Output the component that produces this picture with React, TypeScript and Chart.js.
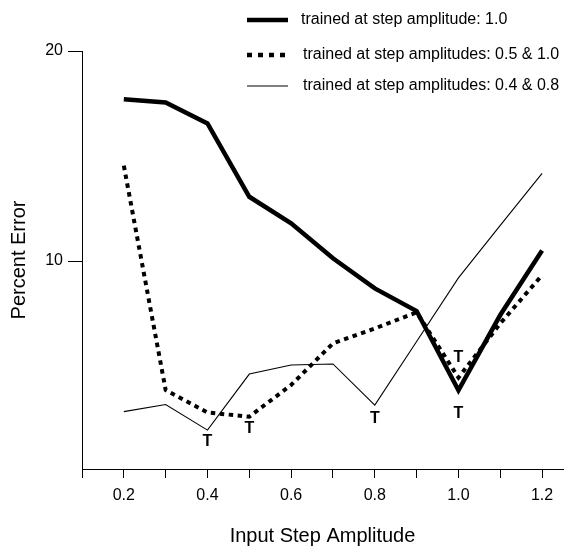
import React, { useEffect, useRef } from "react";
import { Chart, registerables } from "chart.js";

Chart.register(...registerables);

const FONT = "'Liberation Sans', Arial, Helvetica, sans-serif";

// Data
const xValues = [0.2, 0.3, 0.4, 0.5, 0.6, 0.7, 0.8, 0.9, 1.0, 1.1, 1.2];
const trainedOne = [17.7, 17.55, 16.55, 13.06, 11.8, 10.13, 8.7, 7.62, 3.85, 7.43, 10.5];
const trainedHalfAndOne = [14.54, 3.86, 2.79, 2.59, 4.1, 6.08, 6.79, 7.56, 4.45, 7.03, 9.33];
const trainedFourAndEight = [2.83, 3.17, 1.95, 4.62, 5.05, 5.1, 3.14, 6.17, 9.2, 11.7, 14.17];

const seriesLabels = [
  "trained at step amplitude: 1.0",
  "trained at step amplitudes: 0.5 & 1.0",
  "trained at step amplitudes: 0.4 & 0.8",
];

const xTickValues = [0.1, 0.2, 0.3, 0.4, 0.5, 0.6, 0.7, 0.8, 0.9, 1.0, 1.1, 1.2];
const xTickLabels = ["0.2", "0.4", "0.6", "0.8", "1.0", "1.2"];
const yTickValues = [10, 20];

// "T" markers (training points)
const tMarkX = [0.4, 0.5, 0.8, 1.0, 1.0];
const tMarkY = [1.4, 2.0, 2.48, 2.75, 5.4];
const tMarkText = ["T", "T", "T", "T", "T"];

export default function App() {
  const ref = useRef<HTMLCanvasElement>(null);

  useEffect(() => {
    document.body.style.margin = "0";
    const canvas = ref.current;
    if (!canvas) return;
    Chart.defaults.font.family = FONT;
    Chart.defaults.color = "#000";

    const tMarks = {
      id: "tMarks",
      afterDatasetsDraw(chart: any) {
        const { ctx } = chart;
        const xs = chart.scales.x;
        const ys = chart.scales.y;
        ctx.save();
        ctx.font = `bold 16px ${FONT}`;
        ctx.fillStyle = "#000";
        ctx.textAlign = "center";
        ctx.textBaseline = "middle";
        tMarkX.forEach((v, i) => {
          ctx.fillText(tMarkText[i], xs.getPixelForValue(v), ys.getPixelForValue(tMarkY[i]));
        });
        ctx.restore();
      },
    };

    const legendRows = [20, 55, 86];
    const customLegend = {
      id: "customLegend",
      afterDraw(chart: any) {
        const { ctx } = chart;
        ctx.save();
        chart.data.datasets.forEach((ds: any, i: number) => {
          const yy = legendRows[i];
          ctx.beginPath();
          ctx.strokeStyle = ds.borderColor;
          ctx.lineWidth = i === 1 ? 4.5 : ds.borderWidth;
          ctx.setLineDash(i === 1 ? [5, 6] : []);
          ctx.lineCap = "butt";
          ctx.moveTo(247, yy);
          ctx.lineTo(i === 1 ? 285 : 288, yy);
          ctx.stroke();
          ctx.setLineDash([]);
          ctx.font = `16px ${FONT}`;
          ctx.fillStyle = "#000";
          ctx.textAlign = "left";
          ctx.textBaseline = "middle";
          ctx.fillText(ds.label, i === 0 ? 301 : 303, yy);
        });
        ctx.restore();
      },
    };

    const mk = (arr: number[]) => xValues.map((x, i) => ({ x, y: arr[i] }));

    const chart = new Chart(canvas, {
      type: "line",
      data: {
        datasets: [
          {
            label: seriesLabels[0],
            data: mk(trainedOne),
            borderColor: "#000",
            borderWidth: 4.5,
            borderJoinStyle: "miter",
            pointRadius: 0,
            fill: false,
            tension: 0,
          },
          {
            label: seriesLabels[1],
            data: mk(trainedHalfAndOne),
            borderColor: "#000",
            borderWidth: 4,
            borderDash: [4.5, 4.5],
            borderJoinStyle: "miter",
            pointRadius: 0,
            fill: false,
            tension: 0,
          },
          {
            label: seriesLabels[2],
            data: mk(trainedFourAndEight),
            borderColor: "#000",
            borderWidth: 1.1,
            pointRadius: 0,
            fill: false,
            tension: 0,
          },
        ],
      },
      options: {
        responsive: false,
        animation: false,
        devicePixelRatio: 1,
        layout: { padding: { top: 51, right: 1, left: 0, bottom: 0 } },
        plugins: {
          legend: { display: false },
          tooltip: { enabled: false },
        },
        scales: {
          x: {
            type: "linear",
            min: 0.1,
            max: 1.25,
            afterBuildTicks: (s: any) => {
              s.ticks = xTickValues.map((v) => ({ value: v }));
            },
            afterFit: (s: any) => {
              s.height = 78;
            },
            ticks: {
              autoSkip: false,
              maxRotation: 0,
              padding: 8,
              color: "#000",
              font: { size: 16 },
              callback: (v: any) => {
                const s = Number(v).toFixed(1);
                return xTickLabels.includes(s) ? s : "";
              },
            },
            grid: {
              drawOnChartArea: false,
              drawTicks: true,
              tickLength: 9,
              color: "#000",
              lineWidth: 1,
            },
            border: { display: true, color: "#000", width: 1 },
            title: {
              display: true,
              text: "Input Step Amplitude",
              color: "#000",
              font: { size: 20 },
              padding: { top: 0, bottom: -1 },
            },
          },
          y: {
            type: "linear",
            min: 0.1,
            max: 20,
            afterBuildTicks: (s: any) => {
              s.ticks = yTickValues.map((v) => ({ value: v }));
            },
            afterFit: (s: any) => {
              s.width = 82;
            },
            ticks: {
              padding: 5,
              color: "#000",
              font: { size: 16 },
              callback: (v: any) => String(v),
            },
            grid: {
              drawOnChartArea: false,
              drawTicks: true,
              tickLength: 14,
              color: "#000",
              lineWidth: 1,
            },
            border: { display: true, color: "#000", width: 1 },
            title: {
              display: true,
              text: "Percent Error",
              color: "#000",
              font: { size: 20 },
              padding: { top: 7, bottom: 0 },
            },
          },
        },
      },
      plugins: [tMarks, customLegend],
    } as any);

    return () => chart.destroy();
  }, []);

  return (
    <div style={{ position: "absolute", left: 0, top: 0, width: 564, height: 547 }}>
      <canvas ref={ref} width={564} height={547} style={{ display: "block" }} />
    </div>
  );
}
